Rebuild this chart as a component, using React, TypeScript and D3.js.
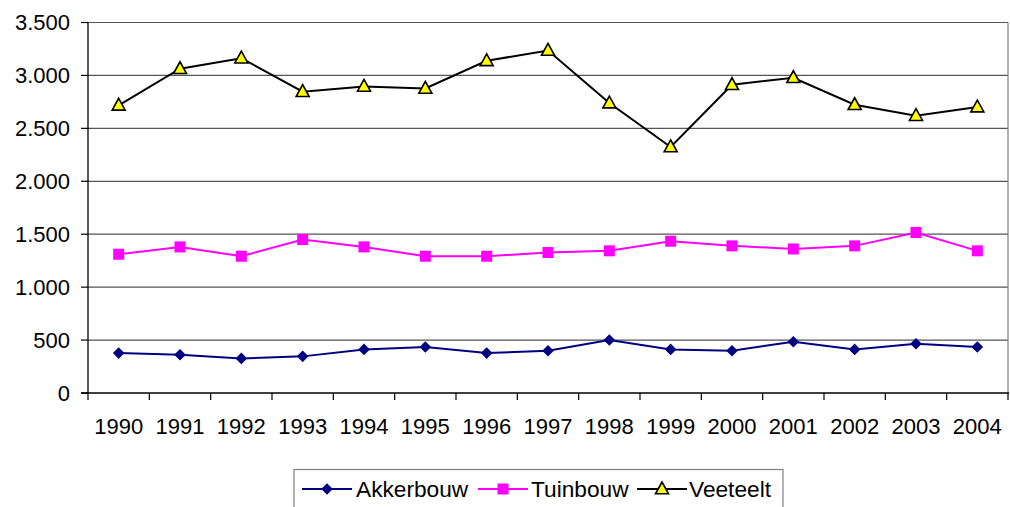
import React from "react";
import * as d3 from "d3";

const years = ["1990","1991","1992","1993","1994","1995","1996","1997","1998","1999","2000","2001","2002","2003","2004"];
const akkerbouw = [377, 361, 327, 346, 412, 434, 377, 399, 500, 412, 399, 484, 412, 465, 434];
const tuinbouw = [1311, 1380, 1292, 1450, 1380, 1292, 1292, 1327, 1343, 1434, 1390, 1361, 1390, 1516, 1343];
const veeteelt = [2718, 3063, 3163, 2846, 2896, 2877, 3138, 3236, 2739, 2324, 2912, 2978, 2723, 2620, 2701];
const yTicks = [0, 500, 1000, 1500, 2000, 2500, 3000, 3500];
const yTickLabels = ["0", "500", "1.000", "1.500", "2.000", "2.500", "3.000", "3.500"];

const W = 1010, H = 507;
const left = 88, right = 1008, top = 22.5, bottom = 393;
const font = "'Liberation Sans', Arial, sans-serif";

export default function App() {
  const x = d3.scaleBand<string>().domain(years).range([left, right]);
  const y = d3.scaleLinear().domain([0, 3500]).range([bottom, top]);
  const cx = (yr: string) => (x(yr) as number) + x.bandwidth() / 2;
  const line = (vals: number[]) =>
    d3.line<number>().x((_, i) => cx(years[i])).y((v) => y(v))(vals) as string;

  const diamond = (px: number, py: number, s = 5.8) =>
    `M${px},${py - s}L${px + s},${py}L${px},${py + s}L${px - s},${py}Z`;
  const tri = (px: number, py: number) =>
    `M${px},${py - 7}L${px + 6.5},${py + 4.8}L${px - 6.5},${py + 4.8}Z`;

  const series = [
    { name: "Akkerbouw", vals: akkerbouw, color: "#000080", width: 2, marker: "diamond" },
    { name: "Tuinbouw", vals: tuinbouw, color: "#FF00FF", width: 2, marker: "square" },
    { name: "Veeteelt", vals: veeteelt, color: "#000000", width: 2, marker: "triangle" },
  ];

  const drawMarker = (m: string, px: number, py: number, key: string) => {
    if (m === "diamond") return <path key={key} d={diamond(px, py)} fill="#000080" />;
    if (m === "square") return <rect key={key} x={px - 5.5} y={py - 5.5} width={11} height={11} fill="#FF00FF" />;
    return <path key={key} d={tri(px, py)} fill="#FFFF00" stroke="#000" strokeWidth={1.6} strokeLinejoin="miter" />;
  };

  const legendItems = [
    { s: series[0], x0: 302, tx: 356 },
    { s: series[1], x0: 478, tx: 531 },
    { s: series[2], x0: 637, tx: 689 },
  ];

  return (
    <svg width={W} height={H} style={{ position: "absolute", left: 0, top: 0 }} fontFamily={font}>
      <rect x={0} y={0} width={W} height={H} fill="#fff" />
      {yTicks.map((t, i) => (
        <g key={t}>
          {i > 0 && <line x1={left} x2={right} y1={y(t)} y2={y(t)} stroke="#555" strokeWidth={1.2} />}
          <line x1={81} x2={left} y1={y(t)} y2={y(t)} stroke="#000" strokeWidth={1.2} />
          <text x={70} y={y(t)} dy="0.36em" textAnchor="end" fontSize={22} fill="#000">{yTickLabels[i]}</text>
        </g>
      ))}
      <line x1={right} x2={right} y1={top} y2={bottom} stroke="#808080" strokeWidth={1.2} />
      <line x1={left} x2={left} y1={top} y2={bottom + 0.6} stroke="#000" strokeWidth={1.3} />
      <line x1={left - 7} x2={right + 1} y1={bottom} y2={bottom} stroke="#000" strokeWidth={1.3} />
      {years.map((yr) => (
        <line key={"t" + yr} x1={x(yr) as number} x2={x(yr) as number} y1={bottom} y2={bottom + 7} stroke="#000" strokeWidth={1.2} />
      ))}
      <line x1={right} x2={right} y1={bottom} y2={bottom + 7} stroke="#000" strokeWidth={1.2} />
      {years.map((yr) => (
        <text key={"l" + yr} x={cx(yr)} y={434} textAnchor="middle" fontSize={22} fill="#000">{yr}</text>
      ))}
      {series.map((s) => (
        <g key={s.name}>
          <path d={line(s.vals)} fill="none" stroke={s.color} strokeWidth={s.width} />
          {s.vals.map((v, i) => drawMarker(s.marker, cx(years[i]), y(v), s.name + i))}
        </g>
      ))}
      <rect x={294} y={469.5} width={489} height={45} fill="#fff" stroke="#808080" strokeWidth={1.2} />
      {legendItems.map(({ s, x0, tx }) => (
        <g key={"lg" + s.name}>
          <line x1={x0} x2={x0 + 50} y1={489} y2={489} stroke={s.color} strokeWidth={2} />
          {drawMarker(s.marker, x0 + 25, 489, "lm" + s.name)}
          <text x={tx} y={496.5} fontSize={22.7} fill="#000">{s.name}</text>
        </g>
      ))}
    </svg>
  );
}
